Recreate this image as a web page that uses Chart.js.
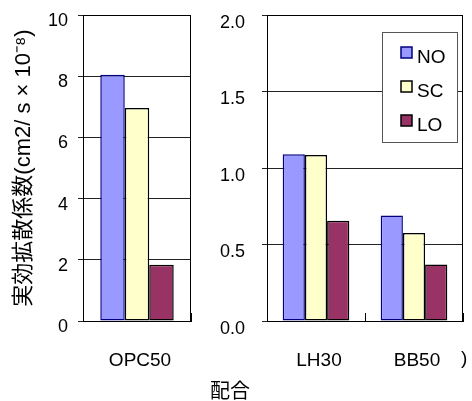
<!DOCTYPE html>
<html>
<head>
<meta charset="utf-8">
<script src="https://cdn.jsdelivr.net/npm/chart.js@4/dist/chart.umd.min.js"></script>
<style>
  body { margin: 0; background: #fff; }
  #wrap { position: relative; width: 472px; height: 401px; overflow: hidden; }
  #c1 { position: absolute; left: 0; top: 0; }
  #c2 { position: absolute; left: 200px; top: 0; }
  .lbl { position: absolute; color: #000; white-space: nowrap; line-height: 1; }
</style>
</head>
<body>
<div id="wrap">
  <canvas id="c1" width="200" height="401"></canvas>
  <canvas id="c2" width="272" height="401"></canvas>
  <div class="lbl" id="xtitle" style="left:210px;top:375px;font:20px 'Noto Sans CJK JP',sans-serif;">配合</div>
  <div class="lbl" style="left:461px;top:347px;font:19px 'Liberation Sans',Arial,sans-serif;">)</div>
</div>
<script>
// data
var leftCats = ['OPC50'];
var rightCats = ['LH30', 'BB50'];
var seriesNames = ['NO', 'SC', 'LO'];
var noLeft = [8.05];
var scLeft = [6.96];
var loLeft = [1.84];
var noRight = [1.09, 0.69];
var scRight = [1.085, 0.575];
var loRight = [0.655, 0.37];
var leftMax = 10, leftStep = 2;
var rightMax = 2, rightStep = 0.5;

var family = "'Liberation Sans', Arial, 'Noto Sans CJK JP', sans-serif";
var fills = ['#9999FF', '#FFFFCC', '#993366'];
var edges = ['#000080', '#000000', '#000000'];

Chart.defaults.font.family = family;
Chart.defaults.color = '#000';

function makeSets(no, sc, lo) {
    return [no, sc, lo].map(function (d, i) {
        return {
            label: seriesNames[i],
            data: d,
            backgroundColor: fills[i],
            borderColor: edges[i],
            borderWidth: 1.5,
            borderSkipped: false,
            categoryPercentage: 0.68,
            barPercentage: 1
        };
    });
}

// no extra padding from tick labels, the layout is fixed by hand
function noPad(s) {
    s.paddingTop = 0; s.paddingBottom = 0; s.paddingLeft = 0; s.paddingRight = 0;
}

// frame round the plot area
var frame = {
    id: 'frame',
    afterDatasetsDraw: function (chart) {
        var a = chart.chartArea, ctx = chart.ctx;
        ctx.save();
        ctx.strokeStyle = '#000';
        ctx.lineWidth = 1;
        ctx.strokeRect(Math.round(a.left) + 0.5, Math.round(a.top) + 0.5,
            Math.round(a.right - a.left) - 1, Math.round(a.bottom - a.top));
        ctx.restore();
    }
};

// boxed legend inside the plot
var boxLegend = {
    id: 'boxLegend',
    afterDraw: function (chart) {
        var ctx = chart.ctx, a = chart.chartArea;
        var x = Math.round(a.right) - 81, y = Math.round(a.top) + 17, w = 75, h = 110;
        ctx.save();
        ctx.fillStyle = '#fff';
        ctx.fillRect(x, y, w, h);
        ctx.strokeStyle = '#555';
        ctx.lineWidth = 1;
        ctx.strokeRect(x + 0.5, y + 0.5, w, h);
        ctx.font = '19px ' + family;
        ctx.textBaseline = 'middle';
        chart.data.datasets.forEach(function (ds, i) {
            var cy = y + 25 + i * 34;
            ctx.fillStyle = ds.backgroundColor;
            ctx.fillRect(x + 19, cy - 10, 11, 11);
            ctx.strokeStyle = ds.borderColor;
            ctx.lineWidth = 1.5;
            ctx.strokeRect(x + 19, cy - 10, 11, 11);
            ctx.fillStyle = '#000';
            ctx.fillText(ds.label, x + 35, cy + 1);
        });
        ctx.restore();
    }
};

function xAxis() {
    return {
        grid: { display: true, offset: true, drawOnChartArea: false, drawTicks: true, tickLength: -8, color: '#000' },
        border: { color: '#000' },
        ticks: { padding: 36, labelOffset: 3, font: { size: 19 } },
        afterFit: function (s) { s.height = 80; noPad(s); }
    };
}

function yAxis(max, step, width, pad, shift, fmt, title) {
    var o = {
        min: 0,
        max: max,
        ticks: { stepSize: step, padding: pad, labelOffset: shift, font: { size: 18 }, callback: fmt },
        grid: { color: '#222', lineWidth: 1, tickLength: 5 },
        border: { color: '#000' },
        afterFit: function (s) { s.width = width; noPad(s); }
    };
    if (title) {
        o.title = { display: true, text: title, font: { size: 22 }, padding: { top: 11, bottom: 0 } };
    }
    return o;
}

new Chart(document.getElementById('c1'), {
    type: 'bar',
    data: { labels: leftCats, datasets: makeSets(noLeft, scLeft, loLeft) },
    options: {
        responsive: false,
        animation: false,
        layout: { padding: { left: 0, right: 9, top: 15, bottom: 0 } },
        plugins: { legend: { display: false }, tooltip: { enabled: false } },
        scales: {
            x: xAxis(),
            y: yAxis(leftMax, leftStep, 83, 10, 6, function (v) { return v; }, '実効拡散係数(cm2/ s × 10⁻⁸)')
        }
    },
    plugins: [frame]
});

new Chart(document.getElementById('c2'), {
    type: 'bar',
    data: { labels: rightCats, datasets: makeSets(noRight, scRight, loRight) },
    options: {
        responsive: false,
        animation: false,
        layout: { padding: { left: 0, right: 9, top: 15, bottom: 0 } },
        plugins: { legend: { display: false }, tooltip: { enabled: false } },
        scales: {
            x: xAxis(),
            y: yAxis(rightMax, rightStep, 67, 17, 8, function (v) { return v.toFixed(1); })
        }
    },
    plugins: [frame, boxLegend]
});
</script>
</body>
</html>
